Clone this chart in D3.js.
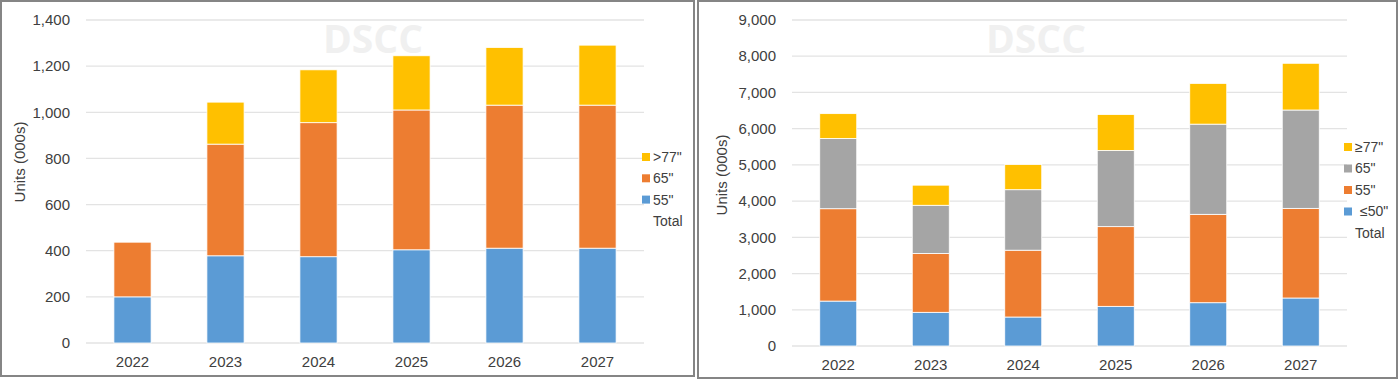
<!DOCTYPE html>
<html>
<head>
<meta charset="utf-8">
<script src="https://cdn.jsdelivr.net/npm/d3@7"></script>
<style>
  body { margin: 0; background: #fff; }
  svg { display: block; font-family: "Liberation Sans", Arial, sans-serif; }
</style>
</head>
<body>
<svg id="chart" width="1400" height="381"></svg>
<script>
// shared categories
const years = ["2022", "2023", "2024", "2025", "2026", "2027"];

// left chart series
const leftKeys = ["55\"", "65\"", ">77\""];
const left55 = [200, 378, 374, 404, 411, 411];
const left65 = [237, 484, 581, 606, 620, 620];
const left77 = [0, 182, 229, 235, 250, 260];
const leftTicks = [0, 200, 400, 600, 800, 1000, 1200, 1400];

// right chart series
const rightKeys = ["≤50\"", "55\"", "65\"", "≥77\""];
const right50 = [1240, 930, 800, 1095, 1195, 1325];
const right55 = [2550, 1625, 1845, 2200, 2440, 2475];
const right65 = [1940, 1330, 1670, 2105, 2490, 2715];
const right77 = [685, 555, 695, 990, 1125, 1290];
const rightTicks = [0, 1000, 2000, 3000, 4000, 5000, 6000, 7000, 8000, 9000];

const blue = "#5b9bd5", orange = "#ed7d31", grey = "#a5a5a5", yellow = "#ffc000";

const svg = d3.select("#chart");
const fmt = d3.format(",");

function drawPanel(cfg) {
  const g = svg.append("g");

  // panel frame
  g.append("rect")
    .attr("x", cfg.box[0]).attr("y", cfg.box[1])
    .attr("width", cfg.box[2]).attr("height", cfg.box[3])
    .attr("fill", "#fff").attr("stroke", "#858585").attr("stroke-width", 2);

  const x = d3.scaleBand().domain(years).range([cfg.x0, cfg.x1]).paddingInner(0.6).paddingOuter(0.3);
  const y = d3.scaleLinear().domain([0, d3.max(cfg.ticks)]).range([cfg.y0, cfg.y1]);

  // gridlines
  g.append("g").selectAll("line").data(cfg.ticks).join("line")
    .attr("x1", cfg.x0).attr("x2", cfg.x1)
    .attr("y1", d => y(d)).attr("y2", d => y(d))
    .attr("stroke", "#e3e3e3").attr("stroke-width", 1.3);

  // watermark
  g.append("text")
    .attr("x", cfg.wm).attr("y", 53)
    .attr("text-anchor", "middle")
    .attr("font-family", "'Open Sans', sans-serif")
    .attr("font-weight", "bold").attr("font-size", 39)
    .attr("fill", "#f0f0f0")
    .text("DSCC");

  // y tick labels
  g.append("g").selectAll("text").data(cfg.ticks).join("text")
    .attr("x", cfg.x0 - 16).attr("y", d => y(d)).attr("dy", "0.35em")
    .attr("text-anchor", "end").attr("font-size", 15).attr("fill", "#404040")
    .text(d => fmt(d));

  // x labels
  g.append("g").selectAll("text").data(years).join("text")
    .attr("x", d => x(d) + x.bandwidth() / 2).attr("y", cfg.y0 + 19).attr("dy", "0.35em")
    .attr("text-anchor", "middle").attr("font-size", 15).attr("fill", "#404040")
    .text(d => d);

  // axis title
  g.append("text")
    .attr("transform", `translate(${cfg.titleX},${cfg.titleY}) rotate(-90)`)
    .attr("text-anchor", "middle").attr("dy", "0.35em")
    .attr("font-size", 15).attr("fill", "#404040")
    .text("Units (000s)");

  // stacked bars
  const rows = years.map((yr, i) => {
    const r = { year: yr };
    cfg.keys.forEach((k, j) => { r[k] = cfg.series[j][i]; });
    return r;
  });
  const stacked = d3.stack().keys(cfg.keys)(rows);
  g.append("g").selectAll("g").data(stacked).join("g")
    .attr("fill", (d, i) => cfg.colors[i])
    .selectAll("rect").data(d => d).join("rect")
    .attr("x", d => x(d.data.year))
    .attr("width", x.bandwidth())
    .attr("y", d => y(d[1]))
    .attr("height", d => y(d[0]) - y(d[1]))
    .attr("stroke", "#fff").attr("stroke-width", 0.8);

  // legend (top entry = last series), then "Total"
  const legend = cfg.keys.map((k, i) => ({ k, c: cfg.colors[i] })).reverse();
  const lg = g.append("g");
  legend.forEach((d, i) => {
    const ly = cfg.legY + i * cfg.legStep;
    lg.append("rect").attr("x", cfg.legX).attr("y", ly - 4).attr("width", 8).attr("height", 8).attr("fill", d.c);
    lg.append("text").attr("x", cfg.legX + 11 + (d.k.startsWith("≤") ? 5 : 0)).attr("y", ly).attr("dy", "0.35em")
      .attr("font-size", 14).attr("fill", "#404040").text(d.k);
  });
  lg.append("text").attr("x", cfg.legX + 11).attr("y", cfg.legY + legend.length * cfg.legStep).attr("dy", "0.35em")
    .attr("font-size", 14).attr("fill", "#404040").text("Total");
}

drawPanel({
  box: [1, 1, 693, 375], x0: 86, x1: 644, y0: 343, y1: 20,
  ticks: leftTicks, keys: leftKeys, series: [left55, left65, left77],
  colors: [blue, orange, yellow], wm: 373, titleX: 20, titleY: 162,
  legX: 642, legY: 157, legStep: 21.3
});

drawPanel({
  box: [698, 1, 699, 377], x0: 792, x1: 1347, y0: 346, y1: 20,
  ticks: rightTicks, keys: rightKeys, series: [right50, right55, right65, right77],
  colors: [blue, orange, grey, yellow], wm: 1036, titleX: 722, titleY: 175,
  legX: 1344, legY: 147, legStep: 21.5
});
</script>
</body>
</html>
